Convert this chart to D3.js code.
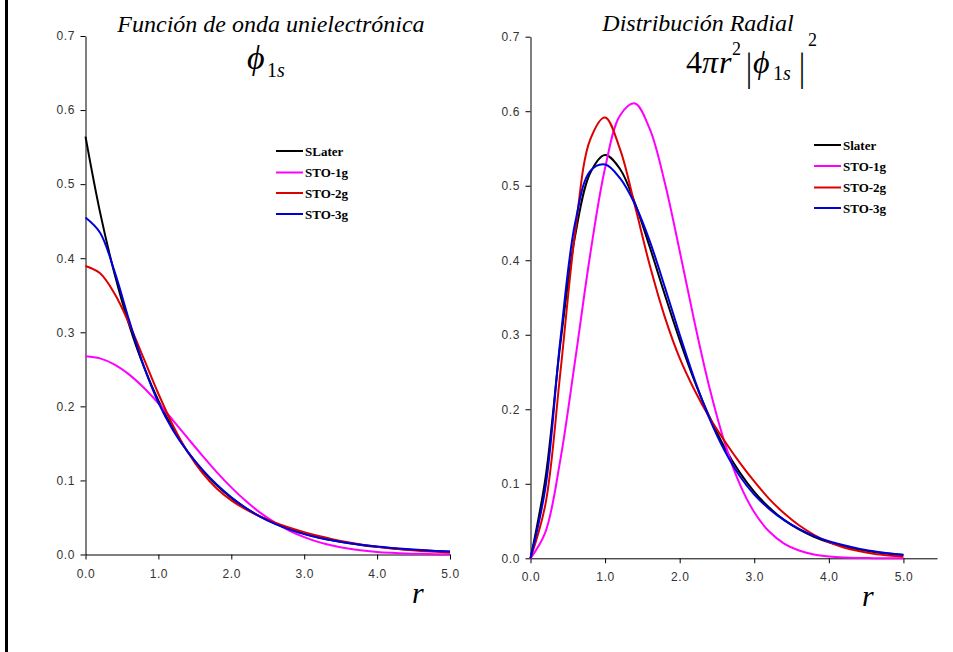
<!DOCTYPE html>
<html>
<head>
<meta charset="utf-8">
<script src="https://cdn.jsdelivr.net/npm/d3@7"></script>
<style>
  body { margin: 0; background: #fff; }
  svg { display: block; }
</style>
</head>
<body>
<svg id="chart" width="953" height="652"></svg>
<script>
// Sample radii (bohr) shared by every curve
const radius = [0.0, 0.2, 0.4, 0.6, 0.8, 1.0, 1.2, 1.4, 1.6, 1.8, 2.0, 2.2, 2.4,
                2.6, 2.8, 3.0, 3.2, 3.4, 3.6, 3.8, 4.0, 4.2, 4.4, 4.6, 4.8, 5.0];

const seriesKeys = ["Slater", "STO-1g", "STO-2g", "STO-3g"];
const waveLegend = ["SLater", "STO-1g", "STO-2g", "STO-3g"];
const radialLegend = ["Slater", "STO-1g", "STO-2g", "STO-3g"];
const seriesColors = ["#000000", "#ff00ff", "#dd0000", "#0000dd"];

// One-electron wave function phi_1s(r)
const waveSlater = [0.5642, 0.4619, 0.3782, 0.3096, 0.2535, 0.2076, 0.1699, 0.1391, 0.1139,
                    0.0933, 0.0764, 0.0625, 0.0512, 0.0419, 0.0343, 0.0281, 0.0230, 0.0188,
                    0.0154, 0.0126, 0.0103, 0.0085, 0.0069, 0.0057, 0.0046, 0.0038];
const waveSTO1g  = [0.2677, 0.2648, 0.2563, 0.2428, 0.2251, 0.2042, 0.1812, 0.1574, 0.1338,
                    0.1113, 0.0906, 0.0721, 0.0562, 0.0429, 0.0320, 0.0234, 0.0167, 0.0117,
                    0.0080, 0.0054, 0.0035, 0.0023, 0.0014, 0.0009, 0.0005, 0.0003];
const waveSTO2g  = [0.3894, 0.3796, 0.3519, 0.3114, 0.2643, 0.2170, 0.1742, 0.1386, 0.1105,
                    0.0892, 0.0731, 0.0609, 0.0511, 0.0431, 0.0362, 0.0302, 0.0249, 0.0204,
                    0.0165, 0.0132, 0.0104, 0.0081, 0.0063, 0.0048, 0.0036, 0.0027];
const waveSTO3g  = [0.4550, 0.4345, 0.3816, 0.3157, 0.2542, 0.2051, 0.1679, 0.1389, 0.1150,
                    0.0946, 0.0773, 0.0628, 0.0509, 0.0413, 0.0336, 0.0275, 0.0227, 0.0188,
                    0.0156, 0.0129, 0.0107, 0.0089, 0.0073, 0.0060, 0.0048, 0.0039];

// Radial distribution 4*pi*r^2*|phi_1s|^2
const radialSlater = [0.0000, 0.1073, 0.2876, 0.4337, 0.5169, 0.5413, 0.5225, 0.4768, 0.4174,
                      0.3541, 0.2931, 0.2377, 0.1896, 0.1492, 0.1160, 0.0892, 0.0681, 0.0515,
                      0.0387, 0.0289, 0.0215, 0.0159, 0.0117, 0.0086, 0.0062, 0.0045];
const radialSTO1g  = [0.0000, 0.0352, 0.1321, 0.2667, 0.4074, 0.5238, 0.5943, 0.6104, 0.5759,
                      0.5043, 0.4124, 0.3166, 0.2288, 0.1563, 0.1009, 0.0618, 0.0359, 0.0198,
                      0.0104, 0.0052, 0.0025, 0.0011, 0.0005, 0.0002, 0.0001, 0.0000];
const radialSTO2g  = [0.0000, 0.0724, 0.2490, 0.4387, 0.5618, 0.5917, 0.5491, 0.4731, 0.3928,
                      0.3240, 0.2686, 0.2256, 0.1890, 0.1578, 0.1291, 0.1031, 0.0798, 0.0604,
                      0.0443, 0.0316, 0.0217, 0.0145, 0.0097, 0.0061, 0.0038, 0.0022];
const radialSTO3g  = [0.0000, 0.0949, 0.2928, 0.4509, 0.5197, 0.5286, 0.5101, 0.4752, 0.4254,
                      0.3643, 0.3003, 0.2399, 0.1875, 0.1449, 0.1112, 0.0855, 0.0663, 0.0513,
                      0.0396, 0.0301, 0.0229, 0.0176, 0.0130, 0.0096, 0.0067, 0.0048];

const yTicks = [0.0, 0.1, 0.2, 0.3, 0.4, 0.5, 0.6, 0.7];
const xTicks = [0.0, 1.0, 2.0, 3.0, 4.0, 5.0];

const svg = d3.select("#chart");
svg.append("rect").attr("width", 953).attr("height", 652).attr("fill", "#fff");

// heavy rule down the left edge of the page
svg.append("line")
  .attr("x1", 6.5).attr("x2", 6.5).attr("y1", 0).attr("y2", 652)
  .attr("stroke", "#000").attr("stroke-width", 3);

const fmt = d3.format(".1f");
const serif = "'Liberation Serif', 'Times New Roman', serif";

function drawPanel(p) {
  const x = d3.scaleLinear().domain([0, p.xMax]).range([p.left, p.right]);
  const y = d3.scaleLinear().domain([0, 0.7]).range([p.bottom, p.top]);
  const g = svg.append("g");

  const styleAxis = sel => {
    sel.attr("font-family", "'Liberation Sans', Arial, sans-serif")
       .attr("font-size", 12);
    sel.select(".domain").attr("stroke", "#000").attr("stroke-width", 1);
    sel.selectAll(".tick line").attr("stroke", "#000");
    sel.selectAll(".tick text").attr("fill", "#333").style("letter-spacing", "0.6px");
  };

  g.append("g")
    .attr("transform", `translate(${p.left},0)`)
    .call(d3.axisLeft(y).tickValues(yTicks).tickFormat(fmt)
      .tickSize(5).tickSizeOuter(0).tickPadding(5.5))
    .call(styleAxis);

  g.append("g")
    .attr("transform", `translate(0,${p.bottom})`)
    .call(d3.axisBottom(x).tickValues(xTicks).tickFormat(fmt)
      .tickSize(5).tickSizeOuter(0).tickPadding(9.5))
    .call(styleAxis);

  const line = d3.line()
    .x((d, i) => x(radius[i]))
    .y(d => y(d))
    .curve(d3.curveCatmullRom);

  p.series.forEach((vals, k) => {
    g.append("path")
      .attr("d", line(vals))
      .attr("fill", "none")
      .attr("stroke", seriesColors[k])
      .attr("stroke-width", 2)
      .attr("stroke-linejoin", "round");
  });

  // legend
  const lg = g.append("g");
  p.legend.forEach((name, k) => {
    const ly = p.legendY[k];
    lg.append("line")
      .attr("x1", p.legendX).attr("x2", p.legendX + 27)
      .attr("y1", ly).attr("y2", ly)
      .attr("stroke", seriesColors[k]).attr("stroke-width", 2);
    lg.append("text")
      .attr("x", p.legendX + 29).attr("y", ly + 4.5)
      .attr("font-family", serif)
      .attr("font-weight", "bold").attr("font-size", 13)
      .attr("fill", "#000")
      .text(name);
  });

  // panel title
  g.append("text")
    .attr("x", p.titleX).attr("y", p.titleY)
    .attr("text-anchor", "middle")
    .attr("font-family", serif)
    .attr("font-style", "italic").attr("font-size", 24)
    .attr("fill", "#000")
    .text(p.title);

  // axis variable
  g.append("text")
    .attr("x", p.rX).attr("y", p.rY)
    .attr("font-family", serif)
    .attr("font-style", "italic").attr("font-size", 30)
    .attr("fill", "#000")
    .text("r");

  return g;
}

drawPanel({
  left: 85.5, right: 450, top: 36, bottom: 554.5, xMax: 5,
  series: [waveSlater, waveSTO1g, waveSTO2g, waveSTO3g],
  legend: waveLegend, legendX: 276, legendY: [151, 172.5, 193, 214],
  title: "Función de onda unielectrónica", titleX: 271, titleY: 32,
  rX: 412, rY: 603
});

drawPanel({
  left: 530.5, right: 937, top: 36.7, bottom: 558.3, xMax: 5.45,
  series: [radialSlater, radialSTO1g, radialSTO2g, radialSTO3g],
  legend: radialLegend, legendX: 814, legendY: [145, 166, 187.5, 208],
  title: "Distribución Radial", titleX: 698, titleY: 31,
  rX: 862, rY: 606
});

// math captions under the titles
function glyph(txt, gx, gy, size, italic) {
  return svg.append("text")
    .attr("x", gx).attr("y", gy)
    .attr("font-family", serif).attr("font-size", size)
    .attr("font-style", italic ? "italic" : "normal")
    .attr("fill", "#000")
    .text(txt);
}
// tall absolute-value bar, stretched vertically
function bar(gx, gy) {
  return svg.append("text")
    .attr("transform", `translate(${gx},${gy}) scale(1,1.35)`)
    .attr("font-family", serif).attr("font-size", 30)
    .attr("fill", "#000")
    .text("|");
}

// phi_1s
glyph("\u03D5", 247, 69, 34, true);
glyph("1", 267, 77, 20, false);
glyph("s", 277, 77, 20, true);

// 4 pi r^2 |phi_1s|^2
glyph("4", 686, 73, 32, false);
glyph("\u03C0", 702, 73, 32, true);
glyph("r", 719, 73, 32, true);
glyph("2", 732, 55, 18, false);
bar(746, 80);
glyph("\u03D5", 753, 73, 32, true);
glyph("1", 773, 80, 20, false);
glyph("s", 783, 80, 20, true);
bar(799, 80);
glyph("2", 808, 46, 18, false);
</script>
</body>
</html>
